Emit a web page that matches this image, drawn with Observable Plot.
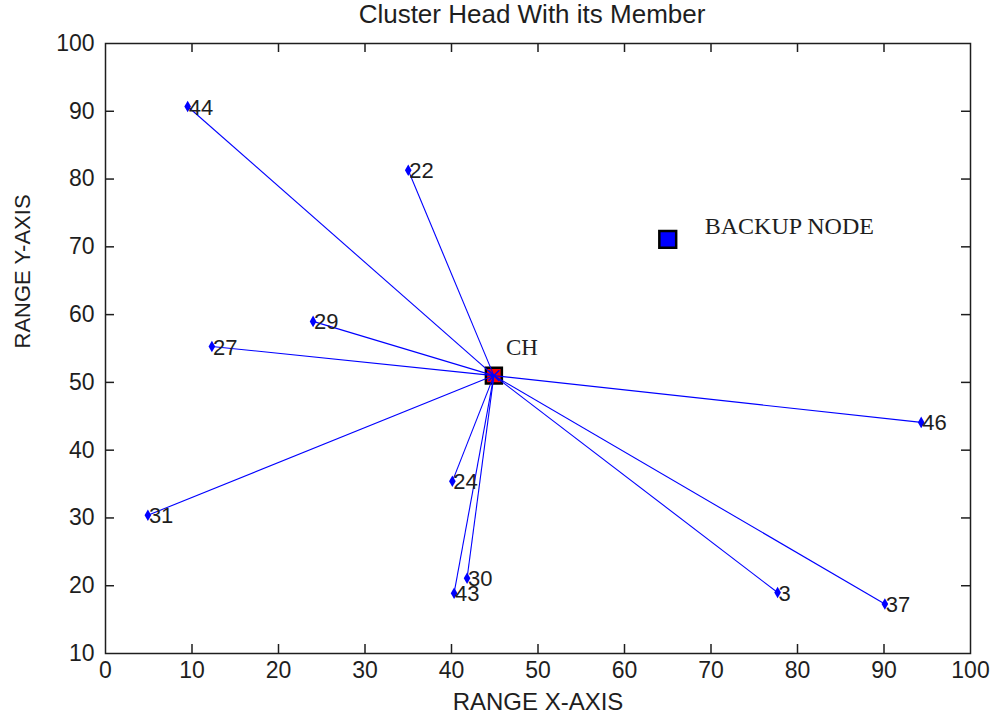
<!DOCTYPE html>
<html><head><meta charset="utf-8">
<script src="https://cdn.jsdelivr.net/npm/d3@7"></script>
<script src="https://cdn.jsdelivr.net/npm/@observablehq/plot@0.6"></script>
<style>body{margin:0;background:#fff;}</style>
</head><body><div id="chart"></div>
<script>
const memberIds = [44, 22, 29, 27, 46, 24, 31, 30, 43, 3, 37];
const memberX = [9.5, 35.0, 24.0, 12.3, 94.3, 40.1, 4.9, 41.8, 40.3, 77.7, 90.1];
const memberY = [90.7, 81.3, 59.0, 55.3, 44.1, 35.4, 30.4, 21.1, 18.9, 19.0, 17.3];
const chX = [44.9], chY = [51.0];
const backupX = [65.0], backupY = [71.1];
const xTicks = [0,10,20,30,40,50,60,70,80,90,100];
const yTicks = [10,20,30,40,50,60,70,80,90,100];

const members = memberIds.map((id,i)=>({id, x: memberX[i], y: memberY[i]}));
const ch = {x: chX[0], y: chY[0]};
const backup = {x: backupX[0], y: backupY[0]};

const W = 1000, H = 719, mL = 105, mR = 30, mT = 43, mB = 66;
const plotH = H - mT - mB, plotW = W - mL - mR;
const tick = 9;
const font = "Liberation Sans, Arial, sans-serif";
const serif = "Liberation Serif, Times New Roman, serif";
const ink = "#1e1e1e";

const chart = Plot.plot({
  width: W, height: H,
  marginLeft: mL, marginRight: mR, marginTop: mT, marginBottom: mB,
  style: {fontFamily: font, fontSize: "23px", color: ink, background: "#fff"},
  x: {domain: [0, 100]},
  y: {domain: [10, 100]},
  marks: [
    Plot.axisX({ticks: xTicks, tickSize: 0, tickPadding: 8, fontSize: 23, label: null, tickFormat: d=>d}),
    Plot.axisY({ticks: yTicks, tickSize: 0, tickPadding: 11, fontSize: 23, label: null, tickFormat: d=>d}),
    Plot.tickX(xTicks.slice(1,-1), {x: d=>d, insetTop: plotH - tick, stroke: ink, strokeWidth: 1.5}),
    Plot.tickX(xTicks.slice(1,-1), {x: d=>d, insetBottom: plotH - tick, stroke: ink, strokeWidth: 1.5}),
    Plot.tickY(yTicks.slice(1,-1), {y: d=>d, insetRight: plotW - tick, stroke: ink, strokeWidth: 1.5}),
    Plot.tickY(yTicks.slice(1,-1), {y: d=>d, insetLeft: plotW - tick, stroke: ink, strokeWidth: 1.5}),
    Plot.frame({stroke: ink, strokeWidth: 1.5}),
    Plot.dot([ch], {x: "x", y: "y", symbol: "square", r: 9, fill: "#ff0000", stroke: "#000", strokeWidth: 2.5}),
    Plot.link(members, {x1: ()=>ch.x, y1: ()=>ch.y, x2: "x", y2: "y", stroke: "#0000ff", strokeWidth: 1.1}),
    Plot.dot([ch], {x: "x", y: "y", symbol: "times", r: 5, stroke: "#0000ff", strokeWidth: 1.5}),
    Plot.dot(members, {x: "x", y: "y", symbol: "diamond", r: 3.5, fill: "#0000ff"}),
    Plot.text(members, {x: "x", y: "y", text: d=>String(d.id), dx: 1, dy: 1, textAnchor: "start", fontSize: 22, fill: ink, fontFamily: font}),
    Plot.dot([backup], {x: "x", y: "y", symbol: "square", r: 9.5, fill: "#0000ff", stroke: "#000", strokeWidth: 2.5}),
    Plot.text([ch], {x: "x", y: "y", text: ()=>"CH", dx: 12, dy: -28, textAnchor: "start", fontSize: 23, fill: ink, fontFamily: serif}),
    Plot.text([backup], {x: "x", y: "y", text: ()=>"BACKUP NODE", dx: 37, dy: -13, textAnchor: "start", fontSize: 24, fill: ink, fontFamily: serif}),
    Plot.text(["Cluster Head With its Member"], {frameAnchor: "top", text: d=>d, dx: -6, dy: -39, fontSize: 26, fill: ink, fontFamily: font}),
    Plot.text(["RANGE X-AXIS"], {frameAnchor: "bottom", text: d=>d, dy: 56, fontSize: 24, fill: ink, fontFamily: font}),
    Plot.text(["RANGE Y-AXIS"], {frameAnchor: "left", text: d=>d, dx: -83, rotate: -90, fontSize: 22, fill: ink, fontFamily: font})
  ]
});
document.getElementById("chart").appendChild(chart);
</script>
</body></html>
